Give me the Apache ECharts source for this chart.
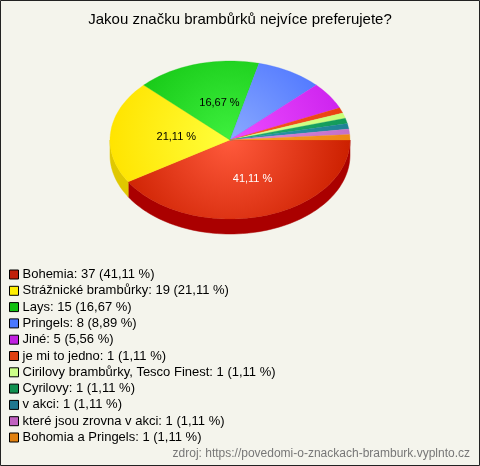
<!DOCTYPE html>
<html><head><meta charset="utf-8">
<script src="https://cdn.jsdelivr.net/npm/echarts@6/dist/echarts.min.js"></script>
<style>html,body{margin:0;padding:0;background:#f4f4ec}#c{width:480px;height:466px}</style>
</head><body><div id="c"></div>
<script>
const titleText = 'Jakou značku brambůrků nejvíce preferujete?';
const sourceText = 'zdroj: https://povedomi-o-znackach-bramburk.vyplnto.cz';
const categories = ['Bohemia','Strážnické brambůrky','Lays','Pringels','Jiné','je mi to jedno','Cirilovy brambůrky, Tesco Finest','Cyrilovy','v akci','které jsou zrovna v akci','Bohomia a Pringels'];
const values = [37,19,15,8,5,1,1,1,1,1,1];

const baseColors  = ['#cc2000','#ffe400','#12c412','#4a72ff','#cc22ee','#e84010','#c8ff78','#129a58','#1f8294','#c470c8','#ee8812'];
const lightColors = ['#ff5a3c','#ffff3c','#3ef03e','#8aaaff','#ee4cff','#ff5a28','#e0ff9a','#22b070','#2a9cb0','#dc8ce0','#ffa030'];
const sideColors  = ['#aa0000','#e0c800','#0a9a0a','#3050cc','#a010c0','#b83008','#a0d060','#0c7a44','#166474','#a058a8','#c86c08'];
const legendColors= ['#c0200a','#ffee00','#10c010','#4a78ff','#c020e0','#e04010','#ccff88','#109050','#207890','#c060c0','#e08010'];

const total = values.reduce((a,b)=>a+b,0);
const pct = v => (v/total*100).toFixed(2).replace('.', ',') + ' %';

const CX = 230, CY = 140, RX = 120, RY = 79, DEPTH = 15;
const pt = (t, dy) => [CX + RX*Math.cos(t), CY + RY*Math.sin(t) + (dy||0)];
function arc(a, b, dy) {
  const pts = [];
  const n = Math.max(2, Math.ceil((b-a)/(Math.PI/90)));
  for (let k=0;k<=n;k++) pts.push(pt(a + (b-a)*k/n, dy));
  return pts;
}

const chart = echarts.init(document.getElementById('c'), null, {renderer:'canvas'});

function renderItem(params, api) {
  const i = params.dataIndex;
  let before = 0;
  for (let k=0;k<i;k++) before += values[k];
  const v = api.value(0);
  const a = before/total*2*Math.PI;
  const b = (before+v)/total*2*Math.PI;
  const children = [];
  const s = Math.max(a, 0), e = Math.min(b, Math.PI);
  if (e > s) {
    const top = arc(s, e, 0);
    const bot = arc(s, e, DEPTH).reverse();
    children.push({type:'polygon', shape:{points: top.concat(bot)}, style:{fill: sideColors[i], stroke: sideColors[i], lineWidth: 0.5}, z2: 1});
  }
  const face = [[CX, CY]].concat(arc(a, b, 0));
  children.push({type:'polygon', shape:{points: face}, style:{
    fill: {type:'radial', x: CX, y: CY, r: RX, global: true,
      colorStops:[{offset:0,color:lightColors[i]},{offset:1,color:baseColors[i]}]},
    stroke: baseColors[i], lineWidth: 0.3}, z2: 2});
  if (v/total >= 0.1) {
    const m = (a+b)/2;
    const lp = [CX + 0.5*RX*Math.cos(m) + 6, CY + 0.5*RY*Math.sin(m) + 1];
    children.push({type:'text', x: lp[0], y: lp[1], z2: 5, style:{
      text: pct(v), fill: i===0 ? '#ffffff' : '#000000', fontSize: 11,
      fontFamily: 'Liberation Sans, Arial, sans-serif', align:'center', verticalAlign:'middle'}});
  }
  return {type:'group', children};
}

chart.setOption({
  backgroundColor: '#f4f4ec',
  animation: false,
  title: [
    {text: titleText, left: 'center', top: 7, textStyle:{fontSize:15, fontWeight:'normal', color:'#000', fontFamily:'Liberation Sans, Arial, sans-serif'}},
    {text: sourceText, right: 5, bottom: 1, textStyle:{fontSize:12, fontWeight:'normal', color:'#777', fontFamily:'Liberation Sans, Arial, sans-serif'}}
  ],
  legend: {
    orient: 'vertical', left: 9, top: 268, padding: 0, itemWidth: 9, itemHeight: 9, itemGap: 3.3,
    icon: 'rect', selectedMode: false,
    itemStyle: {borderColor:'#000', borderWidth: 1},
    textStyle: {fontSize: 13, color:'#000', padding:[0,0,0,-1], lineHeight: 13, fontFamily:'Liberation Sans, Arial, sans-serif'},
    formatter: name => { const i = categories.indexOf(name); return name + ': ' + values[i] + ' (' + pct(values[i]) + ')'; },
    data: categories
  },
  graphic: [{type:'rect', shape:{x:0.5,y:0.5,width:479,height:465}, style:{fill:'none', stroke:'#222', lineWidth:1}, z: 100}],
  series: [
    {type:'custom', coordinateSystem:'none', renderItem, silent: true,
     data: values.map(v => [v])},
    {type:'pie', radius:[0,0], center:[-200,-200], silent: true, label:{show:false}, labelLine:{show:false},
     data: categories.map((c,i)=>({name:c, value: values[i], itemStyle:{color: legendColors[i]}}))}
  ]
});
</script></body></html>
